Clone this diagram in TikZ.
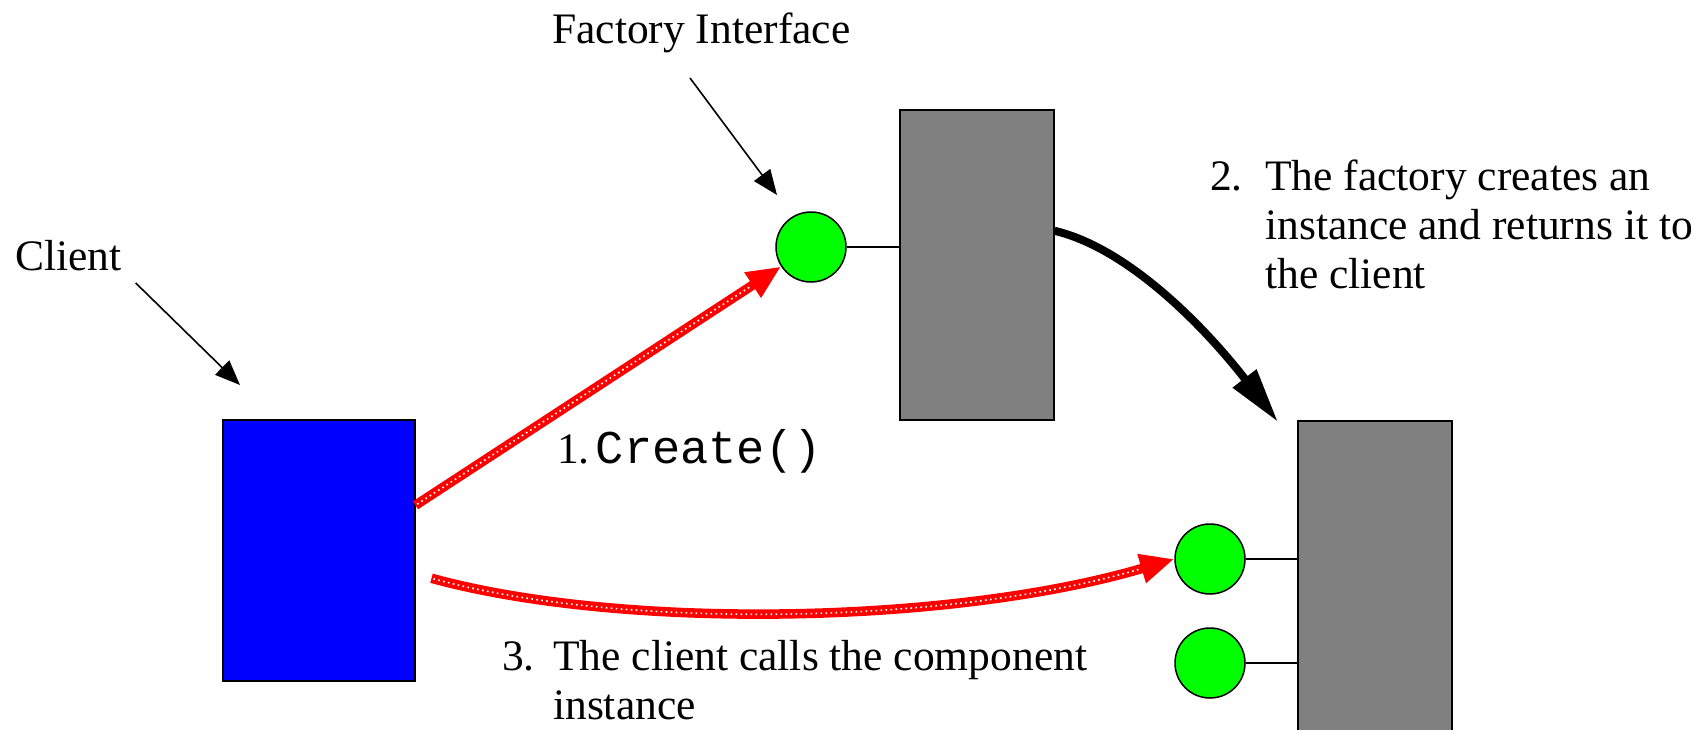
\documentclass[tikz,border=0pt]{standalone}
\usepackage{fontspec}
\setmainfont{Liberation Serif}
\setmonofont{Liberation Mono}
\usetikzlibrary{arrows.meta,calc}
\begin{document}
\begin{tikzpicture}[x=1pt,y=-1pt,
  lbl/.style={inner sep=0pt, anchor=base west, font=\fontsize{43.5}{49}\selectfont},
  box/.style={draw=black, line width=1.5pt, inner sep=0pt, anchor=north west},
  port/.style={circle, draw=black, line width=1.5pt, fill=green, minimum size=70pt, inner sep=0pt},
  stub/.style={draw=black, line width=1.5pt},
  pointer/.style={draw=black, line width=1.6pt, -{Triangle[length=25pt,width=20pt]}},
  call/.style={draw=red, line width=9.5pt, -{Triangle[length=34pt,width=28pt]},
    postaction={draw=white, arrows=-, line width=1.6pt, dash pattern=on 1.6pt off 3.4pt, shorten >=36pt, shorten <=2pt}},
  create/.style={draw=black, line width=8pt, -{Triangle[length=55pt,width=28pt]}}]

\useasboundingbox (0,0) rectangle (1706,729);
\clip (0,0) rectangle (1706,729);

% components
\node[box, fill=blue, minimum width=192pt, minimum height=261pt] (client) at (222,419) {};
\node[box, fill=gray, minimum width=154pt, minimum height=310pt] (factory) at (899,109) {};
\node[box, fill=gray, minimum width=154pt, minimum height=330pt] (comp) at (1297,420) {};

% interfaces
\node[port] (iface) at (811,247) {};
\node[port] (c1) at (1210,559) {};
\node[port] (c2) at (1210,663) {};
\draw[stub] (iface.east) -- (iface.east -| factory.west);
\draw[stub] (c1.east) -- (c1.east -| comp.west);
\draw[stub] (c2.east) -- (c2.east -| comp.west);

% labels
\node[lbl] (fi) at (552,43) {Factory Interface};
\node[lbl] (cl) at (15,270) {Client};
\node[lbl] (s1) at (557,463) {1.\hspace{6pt}{\fontsize{47}{49}\selectfont\ttfamily Create()}};
\node[lbl] (s2) at (1210,190) {\begin{tabular}[t]{@{}l@{\hspace{22.4pt}}l@{}}2.&The factory creates an\\&instance and returns it to\\&the client\end{tabular}};
\node[lbl] (s3) at (502,670) {\begin{tabular}[t]{@{}l@{\hspace{18.4pt}}l@{}}3.&The client calls the component\\&instance\end{tabular}};

% pointers from the labels
\draw[pointer] ([shift={(14,13)}]cl.base east) -- ([shift={(18,-34)}]client.north west);
\draw[pointer] ([shift={(138,35)}]fi.base west) -- ([shift={(-34,-52)}]iface.center);

% calls
\draw[call] ([yshift=45pt]client.east) -- (iface);
\draw[call] ([xshift=16pt,yshift=-28pt]client.east) .. controls (620,630) and (950,625) .. (c1.west);
\draw[create] ([yshift=34pt]factory.east) .. controls (1135,250) and (1215,340) .. ([xshift=-19pt,yshift=-2pt]comp.north west);
\end{tikzpicture}
\end{document}
